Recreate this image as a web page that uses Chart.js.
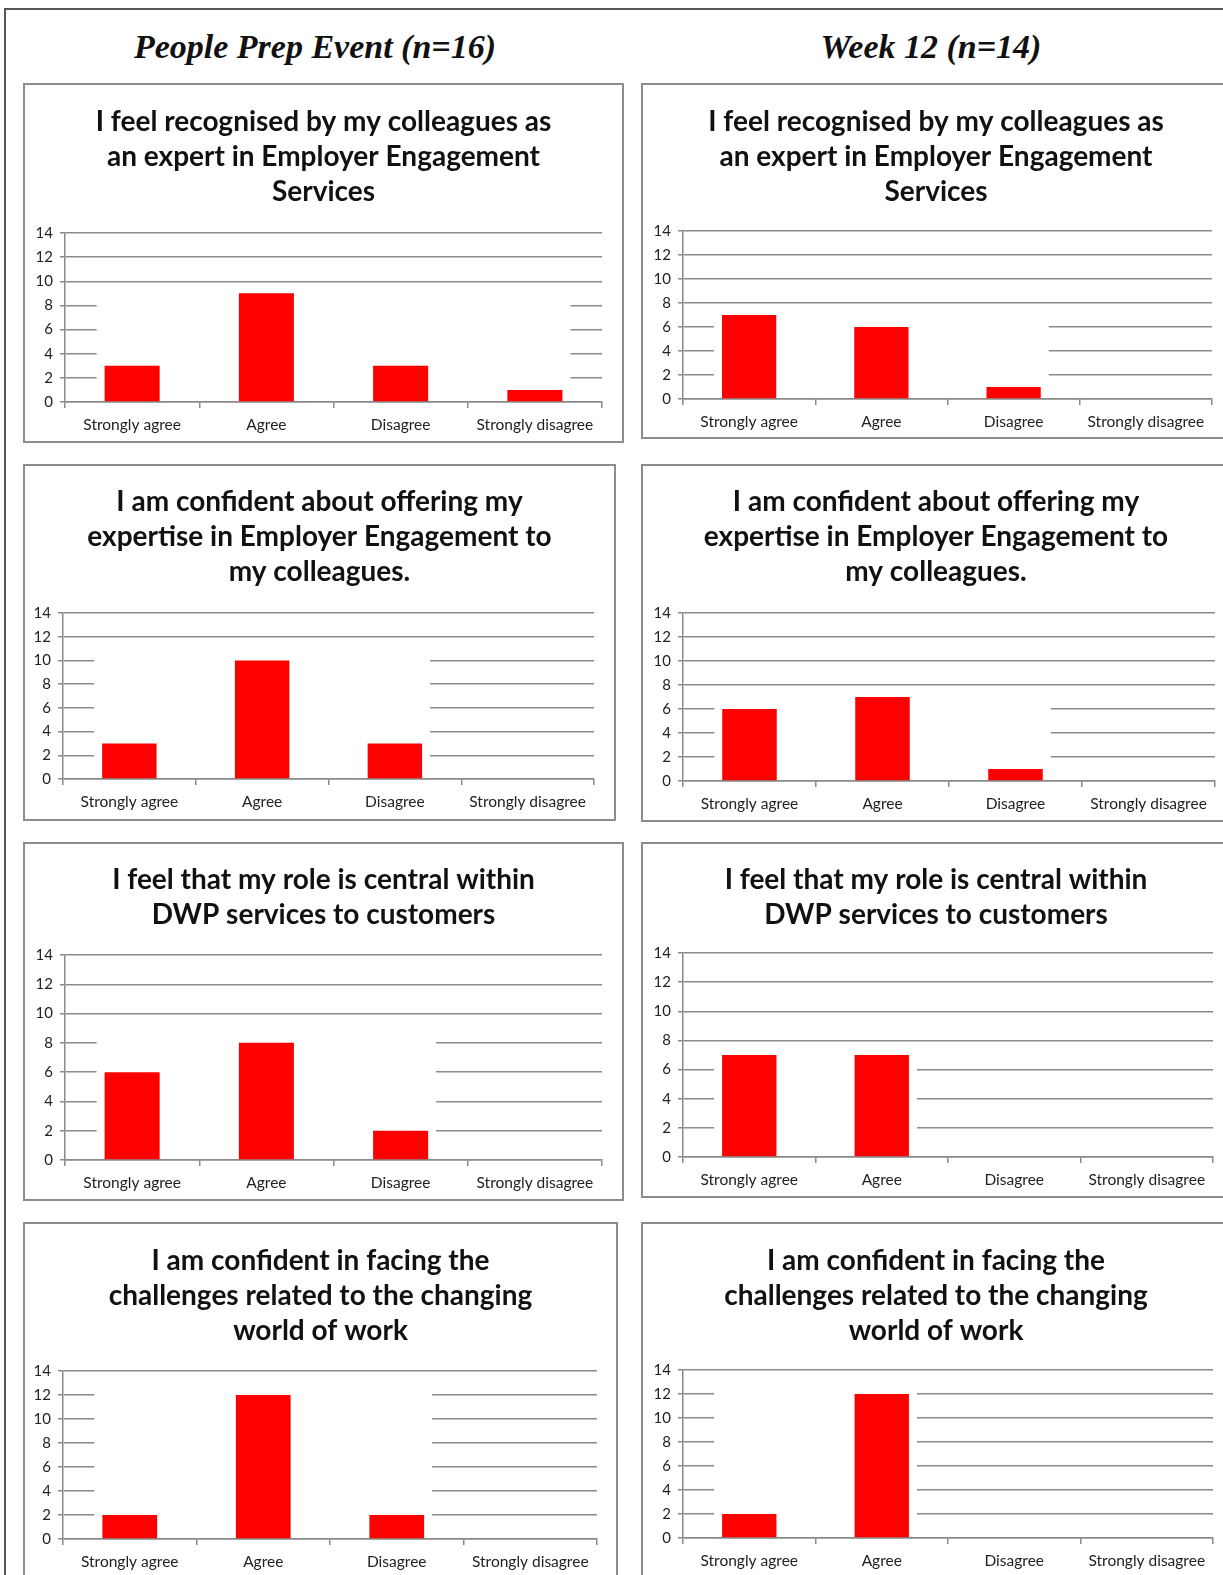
<!DOCTYPE html>
<html>
<head>
<meta charset="utf-8">
<script src="https://cdn.jsdelivr.net/npm/chart.js@4.4.1/dist/chart.umd.min.js"></script>
<style>
    html, body { margin: 0; padding: 0; background: #fff; }
    body { width: 1223px; height: 1575px; position: relative; overflow: hidden; }
    .frame { position: absolute; left: 4px; top: 8px; width: 1400px; height: 1800px; border-left: 2px solid #555; border-top: 2px solid #555; }
    .head { position: absolute; top: 26px; width: 520px; line-height: 42px; text-align: center;
            font-family: 'Liberation Serif', serif; font-style: italic; font-weight: bold; font-size: 34px; color: #111; }
    .box { position: absolute; border: 2px solid #8c8c8c; box-sizing: border-box; background: #fff; }
    .box .inner { position: absolute; left: 0; top: 0; right: 0; bottom: 0; }
</style>
</head>
<body>
<div class="frame"></div>
<div class="head" style="left:55px">People Prep Event (n=16)</div>
<div class="head" style="left:671px">Week 12 (n=14)</div>
<div id="panels"></div>

<script>
const categories = ['Strongly agree', 'Agree', 'Disagree', 'Strongly disagree'];
const yTicks = [0, 2, 4, 6, 8, 10, 12, 14];

const titleRecognised = ['I feel recognised by my colleagues as', 'an expert in Employer Engagement', 'Services'];
const titleConfident = ['I am confident about offering my', 'expertise in Employer Engagement to', 'my colleagues.'];
const titleCentral = ['I feel that my role is central within', 'DWP services to customers'];
const titleChallenges = ['I am confident in facing the', 'challenges related to the changing', 'world of work'];

// People Prep Event (n=16)
const prepRecognised = [3, 9, 3, 1];
const prepConfident = [3, 10, 3, 0];
const prepCentral = [6, 8, 2, 0];
const prepChallenges = [2, 12, 2, 0];

// Week 12 (n=14)
const week12Recognised = [7, 6, 1, 0];
const week12Confident = [6, 7, 1, 0];
const week12Central = [7, 7, 0, 0];
const week12Challenges = [2, 12, 0, 0];

// box placement on the page (px)
const panels = [
    { x: 23,  y: 83,   w: 601, h: 360, line1: 122,  plotTop: 233,  zero: 402,  axisX: 65,  plotRight: 602,  title: titleRecognised, values: prepRecognised },
    { x: 641, y: 83,   w: 590, h: 356, line1: 122,  plotTop: 231,  zero: 399,  axisX: 683, plotRight: 1212, title: titleRecognised, values: week12Recognised },
    { x: 23,  y: 464,  w: 593, h: 357, line1: 502,  plotTop: 613,  zero: 779,  axisX: 63,  plotRight: 594,  title: titleConfident, values: prepConfident },
    { x: 641, y: 464,  w: 590, h: 358, line1: 502,  plotTop: 613,  zero: 781,  axisX: 683, plotRight: 1215, title: titleConfident, values: week12Confident },
    { x: 23,  y: 842,  w: 601, h: 359, line1: 880,  plotTop: 955,  zero: 1160, axisX: 65,  plotRight: 602,  title: titleCentral, values: prepCentral },
    { x: 641, y: 842,  w: 590, h: 356, line1: 880,  plotTop: 953,  zero: 1157, axisX: 683, plotRight: 1213, title: titleCentral, values: week12Central },
    { x: 23,  y: 1222, w: 595, h: 400, line1: 1261, plotTop: 1371, zero: 1539, axisX: 63,  plotRight: 597,  title: titleChallenges, values: prepChallenges },
    { x: 641, y: 1222, w: 590, h: 400, line1: 1261, plotTop: 1370, zero: 1538, axisX: 683, plotRight: 1213, title: titleChallenges, values: week12Challenges }
];

const gridGrey = '#8a8a8a';
const titleSize = 28;
const titleLine = 35;

// Excel left the gridlines blank behind the bar block, so paint it white again
const gridMask = {
    id: 'gridMask',
    beforeDatasetsDraw(chart) {
        const values = chart.data.datasets[0].data;
        const meta = chart.getDatasetMeta(0);
        const yScale = chart.scales.y;
        const shown = values.map((v, i) => v > 0 ? i : -1).filter(i => i >= 0);
        if (!shown.length) return;
        const first = meta.data[shown[0]];
        const last = meta.data[shown[shown.length - 1]];
        const left = first.x - first.width / 2 - 8;
        const right = last.x + last.width / 2 + 8;
        const top = yScale.getPixelForValue(Math.max(...values)) - 3;
        const bottom = yScale.getPixelForValue(0) - 1;
        const ctx = chart.ctx;
        ctx.save();
        ctx.fillStyle = '#fff';
        ctx.fillRect(left, top, right - left, bottom - top);
        ctx.restore();
    }
};

const holder = document.getElementById('panels');

panels.forEach(function (p) {
    const box = document.createElement('div');
    box.className = 'box';
    box.style.left = p.x + 'px';
    box.style.top = p.y + 'px';
    box.style.width = p.w + 'px';
    box.style.height = p.h + 'px';
    const inner = document.createElement('div');
    inner.className = 'inner';
    const canvas = document.createElement('canvas');
    inner.appendChild(canvas);
    box.appendChild(inner);
    holder.appendChild(box);

    const canvasLeft = p.x + 2;
    const canvasTop = p.y + 2;
    const canvasRight = p.x + p.w - 2;
    const canvasBottom = p.y + p.h - 2;
    const side = canvasRight - p.plotRight;
    const yWidth = p.axisX - canvasLeft;
    const padTop = p.line1 - canvasTop - titleLine / 2;
    const padBottom = p.plotTop - canvasTop - padTop - p.title.length * titleLine;
    const xHeight = canvasBottom - p.zero;

    new Chart(canvas, {
        type: 'bar',
        data: {
            labels: categories,
            datasets: [{
                data: p.values,
                backgroundColor: '#ff0000',
                borderWidth: 0,
                barPercentage: 0.41,
                categoryPercentage: 1
            }]
        },
        options: {
            responsive: true,
            maintainAspectRatio: false,
            animation: false,
            layout: { padding: 0 },
            scales: {
                x: {
                    grid: { display: true, drawOnChartArea: false, drawTicks: true, tickLength: 6, color: gridGrey, lineWidth: 1.5 },
                    border: { display: true, color: gridGrey, width: 1.5 },
                    ticks: { color: '#222', padding: 8, maxRotation: 0, font: { family: 'Lato', size: 15.5 } },
                    afterFit: function (scale) { scale.height = xHeight; }
                },
                y: {
                    min: 0,
                    max: 14,
                    afterBuildTicks: function (scale) { scale.ticks = yTicks.map(v => ({ value: v })); },
                    grid: { color: gridGrey, lineWidth: 1.5, tickLength: 5 },
                    border: { display: true, color: gridGrey, width: 1.5 },
                    ticks: { color: '#222', padding: 7, font: { family: 'Lato', size: 15 } },
                    afterFit: function (scale) { scale.width = yWidth; }
                },
                // empty strip on the right so the plot ends short of the box edge
                yRight: {
                    axis: 'y',
                    position: 'right',
                    min: 0,
                    max: 14,
                    grid: { display: false },
                    border: { display: false },
                    ticks: { display: false },
                    afterFit: function (scale) { scale.width = side; }
                }
            },
            plugins: {
                legend: { display: false },
                tooltip: { enabled: false },
                title: {
                    display: true,
                    text: p.title,
                    color: '#111',
                    font: { family: 'Lato', size: titleSize, weight: 'bold', lineHeight: titleLine / titleSize },
                    padding: { top: padTop, bottom: padBottom }
                }
            }
        },
        plugins: [gridMask]
    });
});
</script>
</body>
</html>
